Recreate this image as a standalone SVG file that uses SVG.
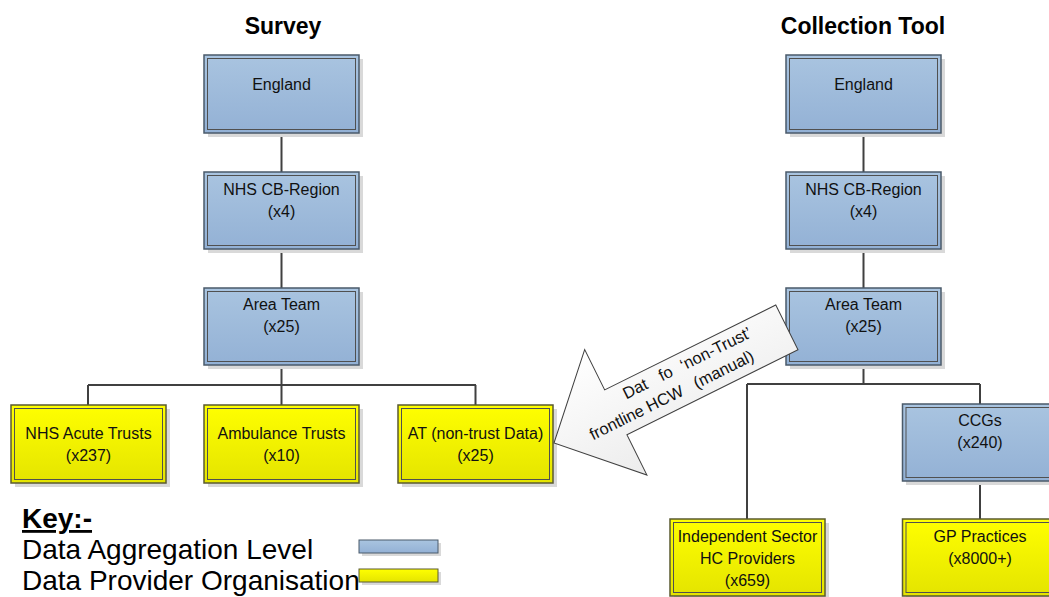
<svg xmlns="http://www.w3.org/2000/svg" width="1049" height="597" viewBox="0 0 1049 597">
<defs>
<linearGradient id="gBlue" x1="0" y1="0" x2="0" y2="1"><stop offset="0" stop-color="#a9c4e0"/><stop offset="1" stop-color="#93b1d5"/></linearGradient>
<linearGradient id="gYel" x1="0" y1="0" x2="0" y2="1"><stop offset="0" stop-color="#ffff00"/><stop offset="1" stop-color="#e4e400"/></linearGradient>
<linearGradient id="gArr" x1="0" y1="0" x2="0" y2="1"><stop offset="0" stop-color="#ffffff"/><stop offset="1" stop-color="#ececec"/></linearGradient>
<style>
.sh{fill:#d9d9d9}
.ob{fill:url(#gBlue);stroke:#4a5a6a;stroke-width:1.5}
.oy{fill:url(#gYel);stroke:#5a5a30;stroke-width:1.5}
.in{fill:none;stroke:#505050;stroke-width:1}
.t{font-family:"Liberation Sans",Arial,sans-serif;font-size:16px;fill:#111;text-anchor:middle}
.title{font-family:"Liberation Sans",Arial,sans-serif;font-size:23px;font-weight:bold;fill:#000;text-anchor:middle}
.key{font-family:"Liberation Sans",Arial,sans-serif;font-size:28px;fill:#000}
.c{stroke:#404040;stroke-width:2;fill:none}
</style>
</defs>
<rect width="1049" height="597" fill="#ffffff"/>
<text class="title" x="283" y="34">Survey</text>
<text class="title" x="863" y="34">Collection Tool</text>
<g id="connectors">
<path class="c" d="M281.5 133V172M281.5 249V288M281.5 365V385M88 385H476M88 385V405M281.5 385V405M475.5 385V405"/>
<path class="c" d="M863.5 133V172M863.5 249V288M863.5 365V384M747 384H980M747 384V519M980 384V404M980 481V519"/>
</g>
<g id="s_england"><rect class="sh" x="208" y="59" width="155" height="78"/><rect class="ob" x="204" y="55" width="155" height="78"/><rect class="in" x="207.5" y="58.5" width="148" height="71"/><text class="t" x="281.5" y="90">England</text></g>
<g id="s_region"><rect class="sh" x="208" y="176" width="155" height="77"/><rect class="ob" x="204" y="172" width="155" height="77"/><rect class="in" x="207.5" y="175.5" width="148" height="70"/><text class="t" x="281.5" y="195">NHS CB-Region</text><text class="t" x="281.5" y="217">(x4)</text></g>
<g id="s_area"><rect class="sh" x="208" y="292" width="155" height="77"/><rect class="ob" x="204" y="288" width="155" height="77"/><rect class="in" x="207.5" y="291.5" width="148" height="70"/><text class="t" x="281.5" y="310">Area Team</text><text class="t" x="281.5" y="332">(x25)</text></g>
<g id="s_acute"><rect class="sh" x="15" y="409" width="155" height="78"/><rect class="oy" x="11" y="405" width="155" height="78"/><rect class="in" x="14.5" y="408.5" width="148" height="71"/><text class="t" x="88.5" y="439">NHS Acute Trusts</text><text class="t" x="88.5" y="461">(x237)</text></g>
<g id="s_amb"><rect class="sh" x="208" y="409" width="155" height="78"/><rect class="oy" x="204" y="405" width="155" height="78"/><rect class="in" x="207.5" y="408.5" width="148" height="71"/><text class="t" x="281.5" y="439">Ambulance Trusts</text><text class="t" x="281.5" y="461">(x10)</text></g>
<g id="s_at"><rect class="sh" x="402" y="409" width="155" height="78"/><rect class="oy" x="398" y="405" width="155" height="78"/><rect class="in" x="401.5" y="408.5" width="148" height="71"/><text class="t" x="475.5" y="439">AT (non-trust Data)</text><text class="t" x="475.5" y="461">(x25)</text></g>
<g id="c_england"><rect class="sh" x="790" y="59" width="155" height="78"/><rect class="ob" x="786" y="55" width="155" height="78"/><rect class="in" x="789.5" y="58.5" width="148" height="71"/><text class="t" x="863.5" y="90">England</text></g>
<g id="c_region"><rect class="sh" x="790" y="176" width="155" height="77"/><rect class="ob" x="786" y="172" width="155" height="77"/><rect class="in" x="789.5" y="175.5" width="148" height="70"/><text class="t" x="863.5" y="195">NHS CB-Region</text><text class="t" x="863.5" y="217">(x4)</text></g>
<g id="c_area"><rect class="sh" x="790" y="292" width="155" height="77"/><rect class="ob" x="786" y="288" width="155" height="77"/><rect class="in" x="789.5" y="291.5" width="148" height="70"/><text class="t" x="863.5" y="310">Area Team</text><text class="t" x="863.5" y="332">(x25)</text></g>
<g id="c_ccgs"><rect class="sh" x="906" y="408" width="155" height="77"/><rect class="ob" x="902.5" y="404" width="155" height="77"/><rect class="in" x="906" y="407.5" width="148" height="70"/><text class="t" x="980" y="426">CCGs</text><text class="t" x="980" y="448">(x240)</text></g>
<g id="c_indep"><rect class="sh" x="674" y="523" width="155" height="77"/><rect class="oy" x="670" y="519" width="155" height="77"/><rect class="in" x="673.5" y="522.5" width="148" height="70"/><text class="t" x="747.5" y="542">Independent Sector</text><text class="t" x="747.5" y="564">HC Providers</text><text class="t" x="747.5" y="586">(x659)</text></g>
<g id="c_gp"><rect class="sh" x="906" y="523" width="155" height="77"/><rect class="oy" x="902.5" y="519" width="155" height="77"/><rect class="in" x="906" y="522.5" width="148" height="70"/><text class="t" x="980" y="542">GP Practices</text><text class="t" x="980" y="564">(x8000+)</text></g>
<g id="arrow" transform="translate(554,443) rotate(-26.4)">
<polygon points="0,0 69,-70 69,-25 260,-25 260,25 69,25 69,70" fill="url(#gArr)" stroke="#404040" stroke-width="1"/>
<text class="t" style="text-anchor:start;font-size:16.5px"><tspan x="84" y="-7">Dat</tspan><tspan x="124" y="-7">fo</tspan><tspan x="148" y="-7">‘non-Trust’</tspan><tspan x="36" y="15">frontline HCW</tspan><tspan x="152" y="15">(manual)</tspan></text>
</g>
<g id="legend">
<text class="key" x="22" y="528" font-weight="bold" text-decoration="underline">Key:-</text>
<text class="key" x="22" y="559">Data Aggregation Level</text>
<text class="key" x="22" y="590">Data Provider Organisation</text>
<rect class="sh" x="362" y="543" width="79" height="13"/>
<rect x="359" y="540" width="79" height="13" fill="url(#gBlue)" stroke="#4a5a6a" stroke-width="1"/>
<rect class="sh" x="362" y="572" width="79" height="13"/>
<rect x="359" y="569" width="79" height="13" fill="url(#gYel)" stroke="#5a5a30" stroke-width="1"/>
</g>
</svg>
